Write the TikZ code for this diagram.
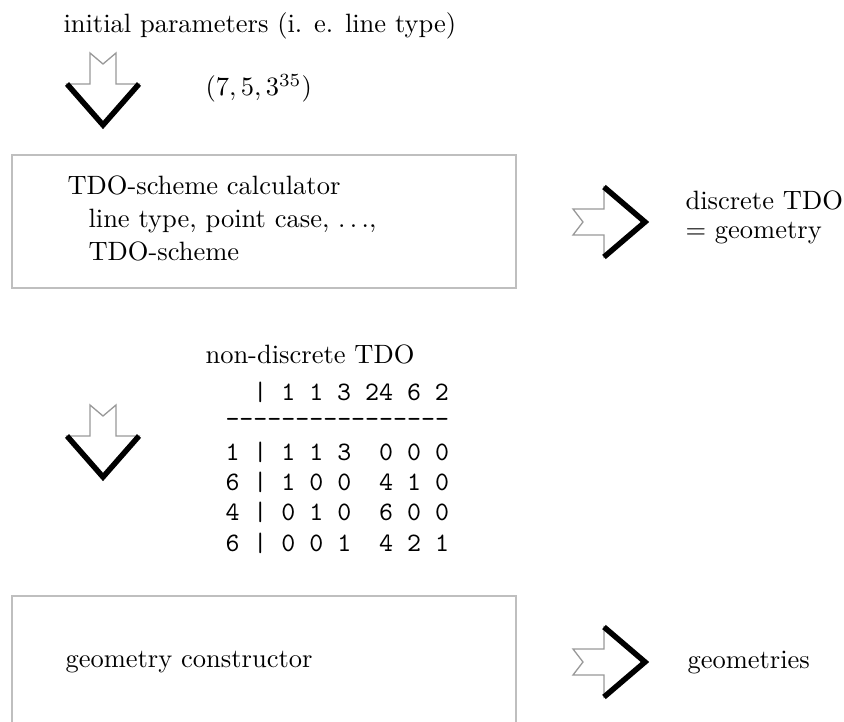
\documentclass[tikz,border=0pt]{standalone}
\begin{document}
\begin{tikzpicture}[x=1pt,y=-1pt,
  txt/.style={anchor=base west,inner sep=0pt,font=\fontsize{10}{12}\selectfont,scale=2.65,transform shape},
  ttrow/.style={anchor=base west,inner sep=0pt,font=\fontsize{10}{12}\selectfont\ttfamily,scale=2.66,transform shape},
  boxline/.style={draw=black!25,line width=2.6pt},
  arrowout/.style={draw=black!40,line width=1.3pt,fill=white,line join=miter},
  arrowhead/.style={draw=black,line width=5.5pt,line join=miter,line cap=butt},
  downarrow/.pic={
    \path[arrowout] (-36,-41) -- (-13,-41) -- (-13,-72) -- (0,-61) -- (13,-72) -- (13,-41) -- (36,-41) -- (0,0) -- cycle;
    \draw[arrowhead] (-36,-41) -- (0,0) -- (36,-41);
  },
  rightarrow/.pic={
    \path[arrowout] (-41,-35) -- (-41,-13) -- (-72,-13) -- (-62,0) -- (-72,13) -- (-41,13) -- (-41,35) -- (0,0) -- cycle;
    \draw[arrowhead] (-41,-35) -- (0,0) -- (-41,35);
  }]
\newcommand\tdash{\hbox{-}}
\useasboundingbox (0,0) rectangle (844,722);
\clip (0,0) rectangle (844,722);

% initial parameters
\node[txt] (init) at (63,33) {initial parameters (i. e. line type)};
\pic at (103,125) {downarrow};
\node[txt] (param) at (205,96) {$(7,5,3^{35})$};

% box 1
\draw[boxline] (12,155) rectangle (516,288);
\node[txt] (calc1) at (67,195) {TDO-scheme calculator};
\node[txt] (calc2) at (88,228) {line type, point case, $\ldots$,};
\node[txt] (calc3) at (88,261) {TDO-scheme};
\pic at (645,222) {rightarrow};
\node[txt] (disc1) at (685,210) {discrete TDO};
\node[txt] (disc2) at (685,239) {= geometry};

% non-discrete TDO
\node[txt] (nondisc) at (205,363) {non-discrete TDO};
\pic at (103,477) {downarrow};
\node[ttrow] (r0) at (225,400) {~~|~1~1~3~24~6~2};
\node[ttrow] (r1) at (225,427) {\tdash\tdash\tdash\tdash\tdash\tdash\tdash\tdash\tdash\tdash\tdash\tdash\tdash\tdash\tdash\tdash};
\node[ttrow] (r2) at (225,460) {1~|~1~1~3~~0~0~0};
\node[ttrow] (r3) at (225,490) {6~|~1~0~0~~4~1~0};
\node[ttrow] (r4) at (225,520) {4~|~0~1~0~~6~0~0};
\node[ttrow] (r5) at (225,551) {6~|~0~0~1~~4~2~1};

% box 2
\draw[boxline] (12,596) rectangle (516,728);
\node[txt] (geoc) at (65,667) {geometry constructor};
\pic at (645,662) {rightarrow};
\node[txt] (geos) at (687,668) {geometries};
\end{tikzpicture}
\end{document}
